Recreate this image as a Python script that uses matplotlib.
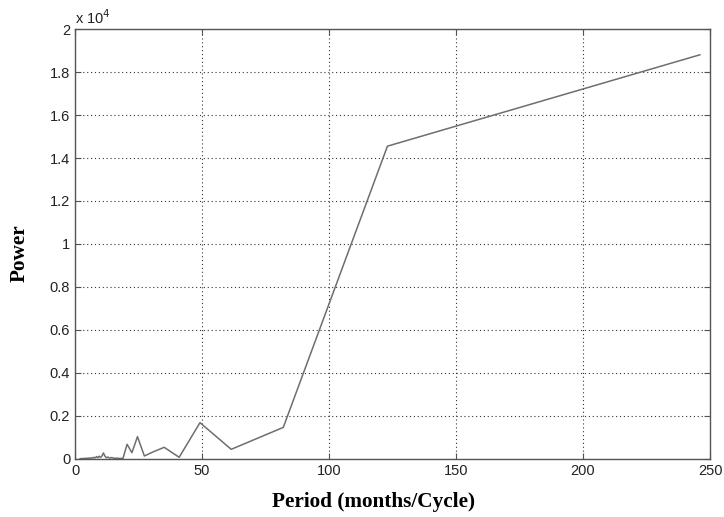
import numpy as np
import matplotlib
matplotlib.use("Agg")
import matplotlib.pyplot as plt
from matplotlib.ticker import FuncFormatter

# periodogram values
period = [2.0, 2.5, 3.0, 3.5, 4.0, 4.5, 5.0, 5.5, 6.0, 6.5, 7.0, 7.5, 8.0, 8.5,
          9.0, 9.5, 10.0, 10.5, 11.2, 11.7, 12.3, 13.0, 13.7, 14.5, 15.4, 16.4,
          17.6, 18.9, 20.5, 22.4, 24.6, 27.3, 30.75, 35.1, 41.0, 49.2, 61.5,
          82.0, 123.0, 246.0]
power = [10, 20, 15, 30, 20, 40, 25, 50, 30, 60, 40, 80, 50, 110,
         60, 130, 70, 120, 280, 150, 60, 90, 40, 70, 30, 40,
         25, 30, 684, 294, 1040, 140, 330, 543, 80, 1690, 450,
         1470, 14550, 18800]

xticks = [0, 50, 100, 150, 200, 250]
yticks = [0, 2000, 4000, 6000, 8000, 10000, 12000, 14000, 16000, 18000, 20000]

fig = plt.figure(figsize=(7.24, 5.17), dpi=100)
ax = fig.add_axes([0.1036, 0.1122, 0.8771, 0.8317])

ax.plot(period, power, color="#6e6e6e", lw=1.1)

ax.set_xlim(0, 250)
ax.set_ylim(0, 20000)
ax.set_xticks(xticks)
ax.set_yticks(yticks)
ax.yaxis.set_major_formatter(FuncFormatter(lambda v, p: f"{v/1e4:g}"))

ax.grid(True, color="#333333", linestyle=(0, (1, 2.5)), linewidth=0.8)
ax.tick_params(direction="in", length=4, color="#555555", labelsize=10.5,
               labelcolor="#222222", top=True, right=True)
for lab in ax.get_xticklabels() + ax.get_yticklabels():
    lab.set_family("Liberation Sans")
for s in ax.spines.values():
    s.set_color("#555555")
    s.set_linewidth(1.0)

ax.text(0.0, 1.005, "x 10$^4$", transform=ax.transAxes, fontsize=10.5,
        family="Liberation Sans", color="#222222", ha="left", va="bottom")

fig.text(374 / 724, 1 - 502 / 517, "Period (months/Cycle)",
         family="Liberation Serif", fontweight="bold", fontsize=15.3,
         ha="center", va="center")
fig.text(20 / 724, 1 - 253 / 517, "Power", rotation=90,
         family="Liberation Serif", fontweight="bold", fontsize=15.3,
         ha="center", va="center")

fig.savefig("out.png", dpi=100)
